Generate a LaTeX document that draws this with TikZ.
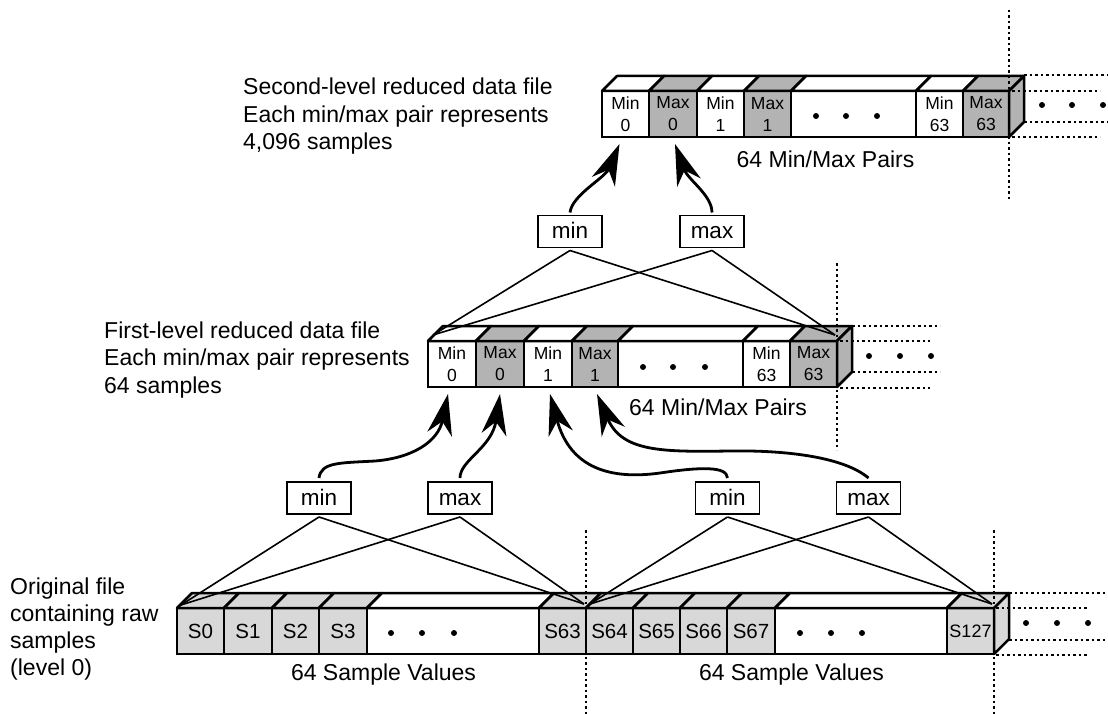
\documentclass[tikz,border=0pt]{standalone}
\usepackage{fontspec}
\setmainfont{Liberation Sans}
\usetikzlibrary{arrows.meta}
\definecolor{maxgray}{HTML}{B3B3B3}
\definecolor{sgray}{HTML}{D8D8D8}
\tikzset{
  cellbox/.style={draw, line width=2.5pt, inner sep=0pt, outer sep=0pt, minimum height=46pt, align=center, font=\fontsize{17.5}{22}\selectfont},
  face/.style={draw, line width=2.5pt, line join=round},
  opbox/.style={draw, line width=1.8pt, minimum width=64pt, minimum height=32pt, inner sep=0pt, outer sep=0pt, text height=16.5pt, text depth=2.5pt, font=\fontsize{22.5}{27}\selectfont},
  fan/.style={line width=1.6pt},
  flow/.style={line width=2.8pt, -{Stealth[length=41pt,width=25pt,inset=13pt]}},
  guide/.style={line width=2.5pt, dash pattern=on 2.5pt off 3pt},
  lbl/.style={font=\fontsize{23}{27.5}\selectfont, inner sep=0pt},
  bigdot/.style={circle, fill, inner sep=0pt, minimum size=6pt},
}
% \mkcell[opts]{name}{x1}{x2}{ytop}{fill}{text}
\newcommand\mkcell[7][]{%
  \node[cellbox, fill=#6, minimum width={#4pt-#3pt}, #1] (#2) at ({(#3+#4)/2},{#5+23}) {#7};
  \draw[face, fill=#6] (#2.north west) -- ++(15,-15) -- ++({#4-#3},0) -- (#2.north east) -- cycle;
}
\newcommand\mkside[2]{%
  \draw[face, fill=#2] (#1.north east) -- ++(15,-15) -- ++(0,46) -- (#1.south east) -- cycle;
}
\begin{document}
\begin{tikzpicture}[x=1pt,y=-1pt]
\useasboundingbox (0,0) rectangle (1108,714);

% ---------- second-level array ----------
\mkcell{t0}{602}{649}{91}{white}{Min\\0}
\mkcell{t1}{649}{697}{91}{maxgray}{Max\\0}
\mkcell{t2}{697}{744}{91}{white}{Min\\1}
\mkcell{t3}{744}{791}{91}{maxgray}{Max\\1}
\mkcell{t4}{791}{916}{91}{white}{}
\mkcell{t5}{916}{963}{91}{white}{Min\\63}
\mkcell{t6}{963}{1009}{91}{maxgray}{Max\\63}
\mkside{t6}{maxgray}
\foreach \x in {816,846,877} \node[bigdot] at (\x,116) {};
\foreach \x in {1042,1072,1103} \node[bigdot] at (\x,105) {};
\draw[guide] (1024,75) -- (1108,75);
\draw[guide] (1012,91) -- (1100,91);
\draw[guide] (1024,122) -- (1108,122);
\draw[guide] (1012,137) -- (1100,137);
\draw[guide] (1009,10) -- (1009,200);

% ---------- first-level array ----------
\mkcell{f0}{428}{476}{341}{white}{Min\\0}
\mkcell{f1}{476}{524}{341}{maxgray}{Max\\0}
\mkcell{f2}{524}{572}{341}{white}{Min\\1}
\mkcell{f3}{572}{618}{341}{maxgray}{Max\\1}
\mkcell{f4}{618}{743}{341}{white}{}
\mkcell{f5}{743}{790}{341}{white}{Min\\63}
\mkcell{f6}{790}{837}{341}{maxgray}{Max\\63}
\mkside{f6}{maxgray}
\foreach \x in {643,673,705} \node[bigdot] at (\x,367) {};
\foreach \x in {869,900,931} \node[bigdot] at (\x,356) {};
\draw[guide] (852,326) -- (940,326);
\draw[guide] (840,341) -- (930,341);
\draw[guide] (852,372) -- (940,372);
\draw[guide] (840,388) -- (930,388);
\draw[guide] (837,263) -- (837,450);

% ---------- level-0 array ----------
\mkcell[font=\fontsize{20.5}{24}\selectfont]{s0}{177}{224}{608}{sgray}{S0}
\mkcell[font=\fontsize{20.5}{24}\selectfont]{s1}{224}{272}{608}{sgray}{S1}
\mkcell[font=\fontsize{20.5}{24}\selectfont]{s2}{272}{319}{608}{sgray}{S2}
\mkcell[font=\fontsize{20.5}{24}\selectfont]{s3}{319}{367}{608}{sgray}{S3}
\mkcell{s4}{367}{539}{608}{white}{}
\mkcell[font=\fontsize{20.5}{24}\selectfont]{s5}{539}{586}{608}{sgray}{S63}
\mkcell[font=\fontsize{20.5}{24}\selectfont]{s6}{586}{633}{608}{sgray}{S64}
\mkcell[font=\fontsize{20.5}{24}\selectfont]{s7}{633}{680}{608}{sgray}{S65}
\mkcell[font=\fontsize{20.5}{24}\selectfont]{s8}{680}{727}{608}{sgray}{S66}
\mkcell[font=\fontsize{20.5}{24}\selectfont]{s9}{727}{775}{608}{sgray}{S67}
\mkcell{s10}{775}{947}{608}{white}{}
\mkcell[font=\fontsize{18}{22}\selectfont]{s11}{947}{994}{608}{sgray}{S127}
\mkside{s11}{sgray}
\foreach \x in {391,422,454,800,831,862} \node[bigdot] at (\x,633) {};
\foreach \x in {1026,1057,1088} \node[bigdot] at (\x,623) {};
\draw[guide] (1009,593) -- (1108,593);
\draw[guide] (996,608) -- (1087,608);
\draw[guide] (1009,640) -- (1108,640);
\draw[guide] (996,655) -- (1087,655);
\draw[guide] (586,530) -- (586,714);
\draw[guide] (994,530) -- (994,714);

% ---------- min/max operators ----------
\node[opbox] (lmin) at (319,498) {min};
\node[opbox] (lmax) at (460,498) {max};
\node[opbox] (rmin) at (727.5,498) {min};
\node[opbox] (rmax) at (868.5,498) {max};
\node[opbox] (umin) at (570,231.5) {min};
\node[opbox] (umax) at (712,231.5) {max};

\coordinate (bl) at (181,605);
\coordinate (bm1) at (584,604);
\coordinate (bm2) at (590,604);
\coordinate (br) at (992,604);
\coordinate (fl) at (433,335);
\coordinate (fr) at (835,335);

\foreach \n in {lmin,lmax} {
  \draw[fan] ([yshift=-3pt]\n.south) -- (bl);
  \draw[fan] ([yshift=-3pt]\n.south) -- (bm1);
}
\foreach \n in {rmin,rmax} {
  \draw[fan] ([yshift=-3pt]\n.south) -- (bm2);
  \draw[fan] ([yshift=-3pt]\n.south) -- (br);
}
\foreach \n in {umin,umax} {
  \draw[fan] ([yshift=-3pt]\n.south) -- (fl);
  \draw[fan] ([yshift=-3pt]\n.south) -- (fr);
}

% ---------- arrows ----------
\draw[flow] ([yshift=4pt]lmin.north) .. controls (321,462) and (340,463) .. (375,461)
            .. controls (412,458) and (438,442) .. ([xshift=-4pt,yshift=-7pt]f0.south);
\draw[flow] ([yshift=4pt]lmax.north) .. controls (460,460) and (492,448) .. ([yshift=-7pt]f1.south);
\draw[flow] ([yshift=4pt]rmin.north) .. controls (727,466) and (700,467) .. (660,473)
            .. controls (610,480) and (570,468) .. ([xshift=2pt,yshift=-7pt]f2.south);
\draw[flow] ([yshift=4pt]rmax.north) .. controls (845,458) and (790,450) .. (730,451)
            .. controls (662,452) and (622,452) .. ([xshift=2pt,yshift=-7pt]f3.south);
\draw[flow] ([yshift=3pt]umin.north) .. controls (572,195) and (605,178) .. ([xshift=-6pt,yshift=-7pt]t0.south);
\draw[flow] ([yshift=3pt]umax.north) .. controls (712,195) and (688,180) .. ([xshift=2pt,yshift=-7pt]t1.south);

% ---------- labels (anchored at the baseline of the last line) ----------
\node[lbl, align=left, anchor=base west] (txt2) at (243,150) {Second-level reduced data file\\Each min/max pair represents\\4,096 samples};
\node[lbl, align=left, anchor=base west] (txt1) at (104,393) {First-level reduced data file\\Each min/max pair represents\\64 samples};
\node[lbl, align=left, anchor=base west, font=\fontsize{23}{27}\selectfont] (txt0) at (10,675) {Original file\\containing raw\\samples\\(level 0)};
\node[lbl, anchor=base] (p2) at (825.5,168) {64 Min/Max Pairs};
\node[lbl, anchor=base] (p1) at (718,415) {64 Min/Max Pairs};
\node[lbl, anchor=base] (v0) at (383.5,680) {64 Sample Values};
\node[lbl, anchor=base] (v1) at (791.5,680) {64 Sample Values};
\end{tikzpicture}
\end{document}
